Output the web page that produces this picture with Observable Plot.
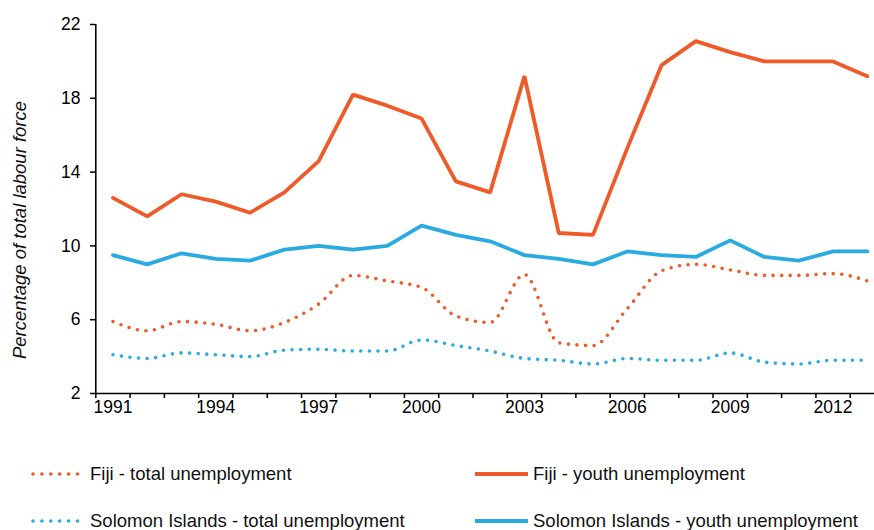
<!DOCTYPE html>
<html>
<head>
<meta charset="utf-8">
<script src="https://cdn.jsdelivr.net/npm/d3@7"></script>
<script src="https://cdn.jsdelivr.net/npm/@observablehq/plot@0.6"></script>
<style>
  html, body { margin: 0; padding: 0; background: #fff; }
  body { width: 874px; height: 530px; position: relative; overflow: hidden; font-family: "Liberation Sans", Arial, sans-serif; }
  #chart { position: absolute; left: 0; top: 0; }
  .leg { position: absolute; display: flex; align-items: center; font-size: 18.5px; color: #111; white-space: nowrap; height: 24px; }
  .leg svg { display: block; }
</style>
</head>
<body>
<div id="chart"></div>
<div id="legend"></div>
<script>
const years = [1991,1992,1993,1994,1995,1996,1997,1998,1999,2000,2001,2002,2003,2004,2005,2006,2007,2008,2009,2010,2011,2012,2013];
const fijiTotal = [5.9,5.4,5.9,5.75,5.4,5.85,6.85,8.4,8.1,7.75,6.2,5.85,8.45,4.75,4.6,6.6,8.65,9.0,8.7,8.4,8.4,8.5,8.1];
const fijiYouth = [12.6,11.6,12.8,12.4,11.8,12.9,14.6,18.2,17.6,16.9,13.5,12.9,19.2,10.7,10.6,15.3,19.8,21.1,20.5,20.0,20.0,20.0,19.2];
const solTotal = [4.1,3.9,4.2,4.1,4.0,4.35,4.4,4.3,4.3,4.9,4.6,4.3,3.9,3.8,3.6,3.9,3.8,3.8,4.2,3.7,3.6,3.8,3.8];
const solYouth = [9.5,9.0,9.6,9.3,9.2,9.8,10.0,9.8,10.0,11.1,10.6,10.25,9.5,9.3,9.0,9.7,9.5,9.4,10.3,9.4,9.2,9.7,9.7];
const seriesNames = ["Fiji - total unemployment","Fiji - youth unemployment","Solomon Islands - total unemployment","Solomon Islands - youth unemployment"];
const yTicks = [2,6,10,14,18,22];
const xTickLabels = [1991,1994,1997,2000,2003,2006,2009,2012];
const yLabel = "Percentage of total labour force";

const ORANGE = "#F05A28", BLUE = "#29ABE2";

function toRows(name, vals) { return years.map((y, i) => ({year: y, value: vals[i], series: name})); }
const rowsFT = toRows(seriesNames[0], fijiTotal);
const rowsFY = toRows(seriesNames[1], fijiYouth);
const rowsST = toRows(seriesNames[2], solTotal);
const rowsSY = toRows(seriesNames[3], solYouth);
const bounds = years.map(y => y - 0.5).concat([years[years.length-1] + 0.5]);

const dotted = {strokeWidth: 3.6, strokeDasharray: "0 8.6", strokeLinecap: "round", curve: "monotone-x"};
const solid = {strokeWidth: 3.8, strokeLinejoin: "miter"};

const plot = Plot.plot({
  width: 874,
  height: 430,
  marginTop: 24,
  marginBottom: 37,
  marginLeft: 95,
  marginRight: 0,
  style: {fontFamily: "'Liberation Sans', Arial, sans-serif", fontSize: "17.5px", color: "#000", background: "#fff"},
  x: {type: "linear", domain: [bounds[0], bounds[bounds.length-1]], range: [95.3, 884], axis: null},
  y: {domain: [2, 22], axis: null},
  marks: [
    Plot.line(rowsFT, {x: "year", y: "value", stroke: ORANGE, ...dotted}),
    Plot.line(rowsST, {x: "year", y: "value", stroke: BLUE, ...dotted}),
    Plot.line(rowsSY, {x: "year", y: "value", stroke: BLUE, ...solid}),
    Plot.line(rowsFY, {x: "year", y: "value", stroke: ORANGE, ...solid}),
    Plot.axisY(yTicks, {tickSize: 5, tickPadding: 10, strokeWidth: 1.5, label: null, fontSize: 17.5}),
    Plot.axisX(bounds, {tickSize: 5, tickFormat: () => "", strokeWidth: 1.5, label: null}),
    Plot.axisX(xTickLabels, {tickSize: 0, tickPadding: 7, tickFormat: d => String(d), label: null, fontSize: 17.5}),
    Plot.ruleY([2], {stroke: "#000", strokeWidth: 1.6}),
    Plot.ruleX([bounds[0]], {stroke: "#000", strokeWidth: 1.6}),
    Plot.text([yLabel], {frameAnchor: "left", rotate: -90, textAnchor: "middle", lineAnchor: "middle", dx: -75, dy: 21, fontSize: 18.5, fontStyle: "italic", fill: "#111"})
  ]
});
document.getElementById("chart").appendChild(plot);

// Legend (HTML, below the SVG)
const legendItems = [
  {name: seriesNames[0], color: ORANGE, dotted: true, left: 30, top: 462},
  {name: seriesNames[1], color: ORANGE, dotted: false, left: 474, top: 462},
  {name: seriesNames[2], color: BLUE, dotted: true, left: 30, top: 509},
  {name: seriesNames[3], color: BLUE, dotted: false, left: 474, top: 509}
];
const legend = document.getElementById("legend");
legendItems.forEach(it => {
  const div = document.createElement("div");
  div.className = "leg";
  div.style.left = it.left + "px";
  div.style.top = it.top + "px";
  const sw = it.dotted ? 52 : 56;
  const line = it.dotted
    ? `<line x1="3" y1="12" x2="50" y2="12" stroke="${it.color}" stroke-width="3.6" stroke-dasharray="0 8.9" stroke-linecap="round"/>`
    : `<line x1="1" y1="12" x2="54" y2="12" stroke="${it.color}" stroke-width="3.8"/>`;
  div.innerHTML = `<svg width="${sw}" height="24">${line}</svg><span style="margin-left:${it.dotted ? 8 : 3}px">${it.name}</span>`;
  legend.appendChild(div);
});
</script>
</body>
</html>
